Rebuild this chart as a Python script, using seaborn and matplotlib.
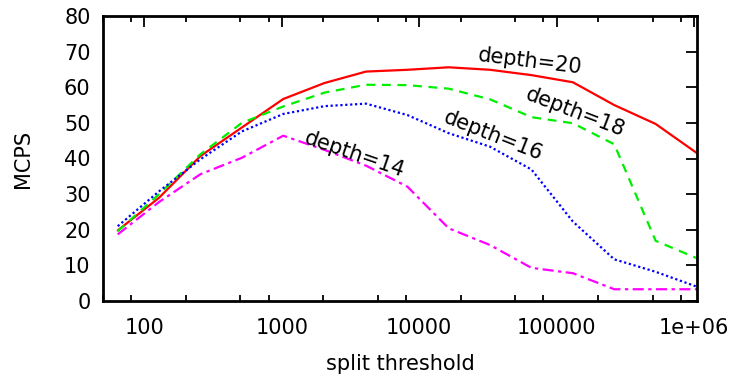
import matplotlib
matplotlib.use("Agg")
import matplotlib.pyplot as plt
import matplotlib.ticker as mticker
import numpy as np
import pandas as pd
import seaborn as sns

# split thresholds (powers of two, 2^6 .. 2^20)
thresholds = [64, 128, 256, 512, 1024, 2048, 4096, 8192, 16384, 32768,
              65536, 131072, 262144, 524288, 1048576]

mcps_depth20 = [19.8, 29.0, 40.7, 48.7, 56.7, 61.2, 64.4, 64.9, 65.6, 64.9,
                63.4, 61.4, 55.0, 49.7, 41.5]
mcps_depth18 = [19.6, 30.0, 41.2, 50.0, 54.6, 58.5, 60.7, 60.6, 59.6, 56.6,
                51.6, 49.9, 44.0, 16.9, 12.0]
mcps_depth16 = [21.0, 30.8, 39.8, 47.6, 52.5, 54.7, 55.4, 52.2, 47.1, 43.3,
                36.9, 22.3, 11.7, 8.2, 4.0]
mcps_depth14 = [18.7, 27.8, 35.6, 40.2, 46.4, 42.4, 38.0, 32.1, 20.4, 15.7,
                9.3, 7.8, 3.3, 3.3, 3.3]

series_names = ["depth=20", "depth=18", "depth=16", "depth=14"]
series_values = [mcps_depth20, mcps_depth18, mcps_depth16, mcps_depth14]
series_colors = ["#ff0000", "#00ee00", "#0000ff", "#ff00ff"]
series_dashes = [(None, None), (4, 3), (1, 1.2), (5, 2, 1.5, 2)]

# inline label placement (x, y, rotation)
label_pos = [(63500, 67.2, -7), (137000, 52.8, -21), (34500, 46.4, -21.5),
             (3400, 41.2, -19)]

y_ticks = [0, 10, 20, 30, 40, 50, 60, 70, 80]
x_major = [100, 1000, 10000, 100000, 1000000]
x_major_labels = ["100", "1000", "10000", "100000", "1e+06"]

sns.set_theme(style="white")
plt.rcParams["font.family"] = ["DejaVu Sans"]
plt.rcParams["text.color"] = "black"
plt.rcParams["axes.labelcolor"] = "black"
plt.rcParams["xtick.color"] = "black"
plt.rcParams["ytick.color"] = "black"

df = pd.concat(
    [pd.DataFrame({"threshold": thresholds, "mcps": v, "series": n})
     for n, v in zip(series_names, series_values)],
    ignore_index=True)

fig = plt.figure(figsize=(7.37, 3.78), dpi=100)
ax = fig.add_axes([103 / 737, 77 / 378, 594 / 737, 285 / 378])

for name, color, dash in zip(series_names, series_colors, series_dashes):
    sub = df[df["series"] == name]
    line_ax = sns.lineplot(data=sub, x="threshold", y="mcps", ax=ax,
                           color=color, linewidth=1.6, legend=False)
    ln = line_ax.get_lines()[-1]
    if dash[0] is not None:
        ln.set_dashes(dash)

for name, (lx, ly, rot) in zip(series_names, label_pos):
    ax.text(lx, ly, name, fontsize=15, rotation=rot, ha="center",
            va="center", rotation_mode="anchor", color="black")

ax.set_xscale("log")
ax.set_xlim(50, 1048576)
ax.set_ylim(0, 80)
ax.set_yticks(y_ticks)
ax.set_xticks(x_major)
ax.set_xticklabels(x_major_labels)
ax.xaxis.set_minor_locator(mticker.LogLocator(base=10, subs=(2, 5, 8)))
ax.xaxis.set_minor_formatter(mticker.NullFormatter())

ax.tick_params(axis="both", which="major", direction="in", length=8,
               width=1.3, top=True, right=True, labelsize=15,
               colors="black")
ax.tick_params(axis="y", which="major", pad=9)
ax.tick_params(axis="x", which="minor", direction="in", length=4,
               width=1.3, top=True, bottom=True)
ax.tick_params(axis="x", which="major", pad=12)
for sp in ax.spines.values():
    sp.set_visible(True)
    sp.set_color("black")
    sp.set_linewidth(2)

ax.set_xlabel("split threshold", fontsize=15, labelpad=12)
ax.set_ylabel("MCPS", fontsize=15, labelpad=22)

fig.savefig("out.png", dpi=100)
